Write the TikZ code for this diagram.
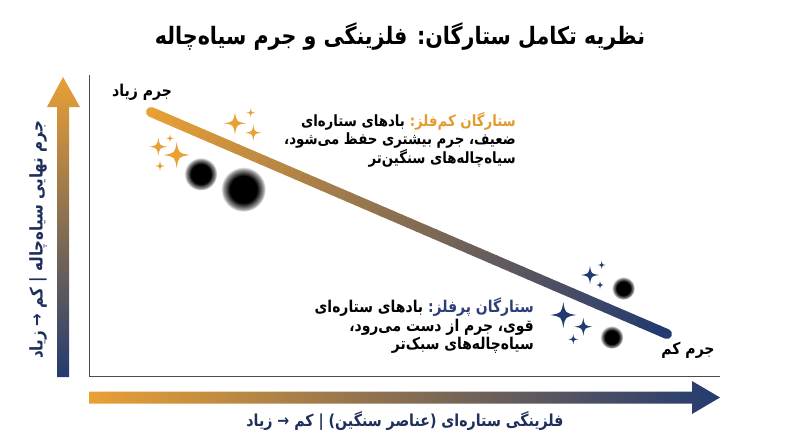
\documentclass[tikz,border=0pt]{standalone}
\usepackage{fontspec}
\usetikzlibrary{calc}
\TeXXeTstate=1
\newfontfamily\arabicfont[Script=Arabic, FakeStretch=0.86]{DejaVu Sans}
\definecolor{corange}{HTML}{E9A035}
\definecolor{cblue}{HTML}{243B70}
\definecolor{clabel}{HTML}{1F2F5C}
\definecolor{ctitleor}{HTML}{E39A2E}
\definecolor{ctextbl}{HTML}{2D3F7A}
\pgfdeclareradialshading{bhole}{\pgfpoint{0bp}{0bp}}{color(0bp)=(black); color(15bp)=(black); color(18bp)=(black!75); color(22bp)=(black!40); color(25bp)=(white); color(50bp)=(white)}
\tikzset{
  sparkle/.pic={\fill (0,1) .. controls (0.14,0.14) .. (1,0) .. controls (0.14,-0.14) .. (0,-1) .. controls (-0.14,-0.14) .. (-1,0) .. controls (-0.14,0.14) .. cycle;},
  bhnode/.style={circle, inner sep=0pt, shade, shading=bhole},
  artext/.style={font=\arabicfont\bfseries, inner sep=0pt},
  upline/.style={artext, anchor=base east, font=\arabicfont\bfseries\fontsize{15.5}{18.5}\selectfont},
  loline/.style={artext, anchor=base east, font=\arabicfont\bfseries\fontsize{16.2}{18.8}\selectfont},
  frameline/.style={draw=black!70, line width=0.8pt}
}
\begin{document}
\begin{tikzpicture}[x=1pt,y=-1pt]
\useasboundingbox (0,0) rectangle (800,447);
% title
\node[artext, font=\arabicfont\bfseries\fontsize{24}{28}\selectfont] (title) at (400,37) {\beginR نظریه تکامل ستارگان: فلزینگی و جرم سیاه‌چاله\endR};
% frame
\coordinate (ftop) at (89,75);
\coordinate (forig) at (89,376);
\coordinate (fright) at (720,376);
\draw[frameline] (ftop) -- (forig) -- (fright);
% y arrow
\shade[top color=corange, bottom color=cblue] (57,377) -- (57,107) -- (47,107) -- (63,77) -- (80,107) -- (69,107) -- (69,377) -- cycle;
% x arrow
\shade[left color=corange, right color=cblue] (89,391.5) -- (692,391.5) -- (692,381) -- (720,397.5) -- (692,414) -- (692,403.5) -- (89,403.5) -- cycle;
% axis labels
\node[artext, text=clabel, rotate=90, font=\arabicfont\bfseries\fontsize{17.5}{20}\selectfont] (ylabel) at (38,240) {\beginR جرم نهایی سیاه‌چاله | کم → زیاد\endR};
\node[artext, text=clabel, font=\arabicfont\bfseries\fontsize{16.5}{20}\selectfont] (xlabel) at (405,421) {\beginR فلزینگی ستاره‌ای (عناصر سنگین) | کم → زیاد\endR};
% diagonal gradient line
\coordinate (ls) at (151,112);
\coordinate (le) at (667,334);
\foreach \i in {0,...,59}{
  \pgfmathsetmacro\ta{\i/60}
  \pgfmathsetmacro\tb{(\i+1)/60}
  \pgfmathtruncatemacro\p{round(\i*100/59)}
  \colorlet{segc}{cblue!\p!corange}
  \draw[segc, line width=10pt, line cap=round] ($(ls)!\ta!(le)$) -- ($(ls)!\tb!(le)$);
}
% end labels
\node[artext, font=\arabicfont\bfseries\fontsize{16.3}{19}\selectfont] (hi) at (142,92) {\beginR جرم زیاد\endR};
\node[artext, font=\arabicfont\bfseries\fontsize{16.3}{19}\selectfont] (lo) at (688,350) {\beginR جرم کم\endR};
% upper text block (low metallicity)
\node[upline, text=ctitleor] (lzhead) at (516,126) {\beginR ستارگان کم‌فلز:\endR};
\node[upline] (lz1) at ([xshift=-4.5pt]lzhead.base west) {\beginR بادهای ستاره‌ای\endR};
\node[upline] (lz2) at (516,144.5) {\beginR ضعیف، جرم بیشتری حفظ می‌شود،\endR};
\node[upline] (lz3) at (516,163) {\beginR سیاه‌چاله‌های سنگین‌تر\endR};
% lower text block (high metallicity)
\node[loline, text=ctextbl] (hzhead) at (534,312) {\beginR ستارگان پرفلز:\endR};
\node[loline] (hz1) at ([xshift=-4.5pt]hzhead.base west) {\beginR بادهای ستاره‌ای\endR};
\node[loline] (hz2) at (534,331) {\beginR قوی، جرم از دست می‌رود،\endR};
\node[loline] (hz3) at (534,349.5) {\beginR سیاه‌چاله‌های سبک‌تر\endR};
% black holes
\node[bhnode, minimum size=33pt] (bh1) at (200.7,174) {};
\node[bhnode, minimum size=45pt] (bh2) at (243.3,189.3) {};
\node[bhnode, minimum size=23pt] (bh3) at (623.3,288.3) {};
\node[bhnode, minimum size=23pt] (bh4) at (611.7,337.3) {};
% orange sparkles
\begin{scope}[corange]
\pic[scale=11] at (235,123.3) {sparkle};
\pic[scale=4.5] at (250.7,112.7) {sparkle};
\pic[scale=8] at (253.3,132.7) {sparkle};
\pic[scale=9] at (158.3,146.7) {sparkle};
\pic[scale=4] at (170,138.3) {sparkle};
\pic[scale=13] at (176.7,155) {sparkle};
\pic[scale=5] at (160,166) {sparkle};
\end{scope}
% blue sparkles
\begin{scope}[cblue]
\pic[scale=9] at (590,275) {sparkle};
\pic[scale=4] at (601.7,265) {sparkle};
\pic[scale=4] at (600,285) {sparkle};
\pic[scale=13] at (563.3,315) {sparkle};
\pic[scale=9] at (583.3,326.7) {sparkle};
\pic[scale=5] at (573.3,339.3) {sparkle};
\end{scope}
\end{tikzpicture}
\end{document}
